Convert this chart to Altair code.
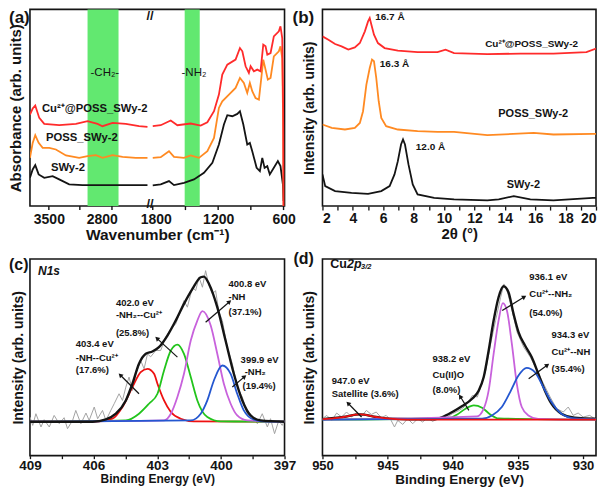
import math
import altair as alt
import pandas as pd

SANS = "Liberation Sans, Arial, Helvetica, sans-serif"
NARROW = "Liberation Sans Narrow, Arial Narrow, Liberation Sans, sans-serif"
INK = "#141414"
RED = "#ff2b2b"
ORANGE = "#ff8a22"
BAND = "#62e870"
GRAY = "#a3a3a3"
C_RED = "#ee1111"
C_GREEN = "#22c41c"
C_MAG = "#c862dc"
C_BLUE = "#2457d0"

# ---------------- (a) FTIR (wavenumber, absorbance arb.) ----------------
a_cu_wn = [3750, 3714, 3680, 3627, 3561, 3363, 3142, 2988, 2856, 2790, 2657, 2482, 2306, 2195,
           1800, 1727, 1635, 1574, 1452, 1360, 1299, 1238, 1193, 1162, 1116, 1040, 1000, 978, 948,
           918, 902, 872, 841, 811, 786, 765, 749, 719, 689, 643, 628, 612, 603, 600]
a_cu_val = [91.7, 97.7, 100.7, 88.3, 82.3, 81, 82.3, 85, 82.3, 80, 83.3, 82.3, 80, 79.3,
            80, 81, 85.7, 81, 82.7, 80.7, 84, 95, 111.7, 131.7, 141.7, 146.7, 158.3, 155, 140,
            133.3, 140, 135, 136.7, 135, 161.7, 160, 151.7, 153.3, 170, 175, 180, 168.3, 95, 0]
a_poss_wn = [3750, 3714, 3680, 3635, 3582, 3495, 3407, 3274, 3099, 2988, 2878, 2790, 2657, 2525, 2350, 2195,
             1800, 1727, 1651, 1605, 1513, 1452, 1376, 1299, 1238, 1193, 1162, 1101, 1040, 1000, 964,
             933, 909, 887, 857, 826, 804, 786, 765, 744, 719, 689, 643, 628, 612, 603, 600]
a_poss_val = [48.3, 63.3, 71, 63.3, 58.3, 58.3, 56.7, 50.7, 48.3, 50, 51, 48.3, 51, 49.3, 48.3, 48.3,
              48.3, 49, 55, 49.3, 48.3, 50.7, 48.3, 55, 68.3, 98.3, 105, 111.7, 118.3, 128.3, 123.3,
              113.3, 123.3, 115, 108.3, 106.7, 128.3, 146.7, 136.7, 126.7, 128.3, 150, 155, 160, 148.3, 80, 0]
a_swy_wn = [3750, 3714, 3680, 3635, 3561, 3450, 3363, 3231, 3054, 2702, 2195,
            1800, 1727, 1651, 1605, 1513, 1422, 1330, 1253, 1193, 1147, 1116, 1070, 1024, 1000, 969,
            933, 909, 887, 847, 817, 795, 774, 749, 726, 689, 652, 628, 606, 600]
a_swy_val = [28.3, 36.7, 41, 31.7, 28.3, 30, 26.7, 21.7, 21, 21, 21,
             20.7, 21.7, 25, 21, 23.3, 26.7, 33.3, 43.3, 61.7, 81.7, 91, 90, 92.3, 95, 81.7,
             61.7, 63.3, 55, 38.3, 35, 48.3, 38.3, 40, 31.7, 38.3, 45, 40, 21.7, 5]
a_band_start = [2988, 1507]
a_band_end = [2578, 1369]
a_band_text = ["-CH₂-", "-NH₂"]
a_band_text_wn = [2759, 1422]
a_band_text_val = [133, 133]
a_label_text = ["Cu²⁺@POSS_SWy-2", "POSS_SWy-2", "SWy-2"]
a_label_wn = [3591, 3539, 3473]
a_label_val = [97.7, 68.3, 38.3]
a_ticklabel_wn = [3500, 2800, 1800, 1200, 600]
a_tick_wn = [3500, 3090, 2665, 1800, 1500, 1200, 900, 600]
a_gap_wn = [2195, 1800]

# ---------------- (b) XRD (2theta, intensity arb.) ----------------
b_cu_tt = [2.0, 2.39, 2.83, 3.26, 3.70, 4.13, 4.46, 4.79, 5.0, 5.11, 5.22, 5.39, 5.65, 6.09, 6.96,
           8.26, 9.57, 10.1, 10.66, 12.85, 15.03, 17.2, 19.37, 20.0]
b_cu_val = [170, 166.7, 162.3, 160, 156.7, 159, 163.3, 175, 185, 188.3, 181.7, 171.7, 163.3, 158.3, 155.7,
            154.3, 154.3, 156.7, 153.3, 152.3, 152.7, 152.7, 154.3, 157.7]
b_poss_tt = [2.0, 2.61, 3.48, 4.13, 4.46, 4.67, 4.89, 5.11, 5.26, 5.39, 5.54, 5.70, 5.87, 6.19, 6.96,
             8.26, 9.57, 10.66, 12.85, 15.9, 17.2, 19.8, 20.0]
b_poss_val = [81.7, 78.3, 76.7, 78.3, 83.3, 95, 121.7, 138.3, 146.7, 145, 128.3, 105, 88.3, 80, 76.7,
              75, 74.3, 74.3, 71, 73.3, 71.7, 72.3, 72.3]
b_swy_tt = [2.0, 2.18, 2.83, 3.91, 5.0, 5.87, 6.42, 6.74, 6.96, 7.17, 7.30, 7.43, 7.66, 7.94, 8.26,
            9.35, 10.66, 12.85, 13.6, 14.59, 15.68, 17.2, 19.8, 20.0]
b_swy_val = [31.7, 20, 15, 13.3, 12.3, 15, 20, 31.7, 45, 61.7, 66.7, 61.7, 41.7, 21.7, 11.7,
             8.3, 6.7, 5.7, 6.7, 10, 6.7, 5.7, 8.3, 8.3]
b_peak_text = ["16.7 Å", "16.3 Å", "12.0 Å"]
b_peak_tt = [6.44, 6.74, 9.11]
b_peak_val = [189, 142, 59]
b_label_text = ["Cu²⁺@POSS_SWy-2", "POSS_SWy-2", "SWy-2"]
b_label_tt = [15.76, 15.87, 15.22]
b_label_val = [162.3, 92, 20.7]
b_ticks = list(range(2, 21))

# ---------------- (c) N1s XPS ----------------
c_raw_be = [409.0, 408.87, 408.72, 408.48, 408.33, 408.09, 407.86, 407.62, 407.39, 407.23, 406.99, 406.84,
            406.6, 406.36, 406.21, 405.97, 405.81, 405.58, 405.42, 405.19, 405.03, 404.8, 404.64, 404.48,
            404.33, 404.17, 404.01, 403.78, 403.62, 403.46, 403.31, 403.07, 402.84, 402.6, 402.36, 402.13,
            401.89, 401.74, 401.58, 401.34, 401.19, 401.03, 400.87, 400.72, 400.56, 400.4, 400.25, 400.09,
            399.93, 399.7, 399.46, 399.23, 398.99, 398.76, 398.52, 398.28, 398.05, 397.81, 397.66, 397.47,
            397.27, 397.11, 397.0]
c_raw_val = [4.7, -3.7, 8, -5.3, 2, -5.3, 6.3, -2, 4, -7, 1.3, 11.3, -2, 8.7, 1.3, 14.7, 3, 11.3, 1.3, 11.3,
             18, 28, 21.3, 34.7, 44.7, 31.3, 48, 61.3, 53, 68, 65, 71.3, 71.3, 84.7, 93, 98, 111.3, 121.3,
             114.7, 134.7, 131.3, 144.7, 134.7, 151.3, 136.3, 128, 131.3, 109.7, 101.3, 74.7, 58, 34.7, 24.7,
             8, 4.7, -2, 8, -5.3, 3, -12, 1.3, -3.7, 1.3]
c_env_be = [409, 406.05, 405.42, 404.95, 404.48, 404.17, 403.86, 403.54, 403.23, 402.92, 402.52, 402.13,
            401.74, 401.34, 400.95, 400.80, 400.56, 400.17, 399.78, 399.39, 398.99, 398.60, 398.13, 397]
c_env_val = [0, 0, 2.3, 8, 21.3, 38, 58, 68, 70.3, 74.7, 86.3, 101.3, 118, 133, 144.7, 145.3, 138, 114.7,
             81.3, 48, 21.3, 6.3, 1.3, 0]
c_red_be = [409, 406, 405.11, 404.64, 404.17, 403.78, 403.46, 403.15, 402.99, 402.68, 402.36, 401.89, 401.27, 397]
c_red_val = [0, 0, 3, 14.7, 34.7, 49.7, 53, 48, 38, 21.3, 9.7, 3, 0.3, 0]
c_grn_be = [409, 404.48, 403.86, 403.39, 402.99, 402.68, 402.36, 402.05, 401.74, 401.42, 401.11, 400.64, 400.01, 397]
c_grn_val = [0, 1.3, 8, 18, 28, 51.3, 71.3, 77.3, 68, 44.7, 21.3, 4.7, 0.3, 0]
c_mag_be = [409, 402.68, 402.36, 402.05, 401.74, 401.42, 401.11, 400.87, 400.48, 400.17, 399.86, 399.54,
            399.23, 398.76, 397]
c_mag_val = [0, 1.3, 8, 24.7, 48, 81.3, 101.3, 110.7, 96.3, 68, 38, 18, 6.3, 1.3, 0]
c_blu_be = [409, 401.42, 400.95, 400.64, 400.33, 399.93, 399.54, 399.23, 398.92, 398.44, 397.81, 397]
c_blu_val = [0, 1.3, 8, 21.3, 41.3, 56.3, 48, 28, 11.3, 2, 0, 0]
c_text = ["402.0 eV", "-NH₂--Cu²⁺", "(25.8%)", "403.4 eV", "-NH--Cu²⁺", "(17.6%)",
          "400.8 eV", "-NH", "(37.1%)", "399.9 eV", "-NH₂", "(19.4%)"]
c_text_be = [404.95, 404.95, 404.95, 406.84, 406.84, 406.84, 399.64, 399.64, 399.64, 399.07, 398.88, 398.98]
c_text_val = [118.7, 107, 89, 78, 63.7, 51.3, 138, 124.7, 109.7, 62.3, 49.7, 35.3]
c_arrow_from_be = [403.86, 402.05, 400.72, 399.46]
c_arrow_from_val = [28, 64.7, 99.7, 34.7]
c_arrow_to_be = [404.72, 402.99, 399.62, 398.91]
c_arrow_to_val = [46.3, 83, 119.7, 44.7]
c_ticks = [409, 407.5, 406, 404.5, 403, 401.5, 400, 398.5, 397]

# ---------------- (d) Cu2p3/2 XPS ----------------
d_raw_be = [950.0, 949.67, 949.29, 948.91, 948.53, 948.15, 947.77, 947.39, 947.01, 946.63, 946.25, 945.87,
            945.49, 945.11, 944.73, 944.47, 944.22, 943.84, 943.46, 943.07, 942.69, 942.31, 941.93, 941.55,
            941.17, 940.79, 940.41, 940.03, 939.5, 939.12, 938.74, 938.49, 938.11, 937.85, 937.47, 937.09,
            936.71, 936.32, 936.07, 935.82, 935.44, 935.06, 934.55, 934.04, 933.54, 933.03, 932.52, 932.02,
            931.51, 931.13, 930.75, 930.37, 929.99, 929.48, 929.1]
d_raw_val = [1, 4.3, -0.7, 6.7, 2.7, 7.7, 2.7, 6.7, 3.3, 9.3, 5.3, 7.7, 2, 4.3, -0.7, -7.3, -0.7, -4.7, 1, -4,
             1, -2.3, 2, -1.7, 1, 0.3, 2.7, 6, 9.3, 12.7, 19.3, 24.3, 22.7, 32.7, 49.3, 76, 99.3, 122.7, 136,
             129.3, 109.3, 87.7, 72.7, 62.7, 49.3, 36, 22.7, 11, 7.7, 12.7, 4.3, 6.7, 2.7, 4.3, 1]
d_env_be = [950, 948.4, 947.13, 945.87, 944.85, 941.5, 940.79, 940.03, 939.27, 938.51, 938.0, 937.62,
            937.24, 936.86, 936.48, 936.1, 935.72, 935.33, 934.95, 934.45, 933.94, 933.43, 932.93, 932.42,
            931.66, 930.65, 929.13, 929]
d_env_val = [0.5, 2.7, 5.3, 2.7, 1, 0.5, 2.7, 7.7, 13.7, 21, 29.3, 42.7, 69.3, 99.3, 122.7, 133.7, 127.7,
             106, 87.7, 74.3, 62.7, 46, 29.3, 16, 6, 2, 1, 1]
d_mag_be = [950, 938.13, 937.62, 937.24, 936.86, 936.48, 936.15, 935.84, 935.46, 935.08, 934.7, 934.19, 933.43, 929]
d_mag_val = [0, 3.3, 11, 29.3, 66, 99.3, 116.7, 109.3, 76, 36, 12.7, 4.3, 0.7, 0]
d_blu_be = [950, 937.75, 936.99, 936.23, 935.59, 934.95, 934.32, 933.69, 933.05, 932.42, 931.66, 930.65, 929]
d_blu_val = [0, 1, 4.3, 12.7, 27.7, 44.3, 52, 47.7, 32.7, 17.7, 6, 1.3, 0.3]
d_grn_be = [950, 940.28, 939.65, 939.02, 938.38, 937.75, 937.12, 936.48, 929]
d_grn_val = [0, 1.7, 5.3, 11, 14.3, 12, 5.3, 1.3, 0]
d_red_be = [950, 949.41, 948.4, 947.13, 945.87, 944.85, 943.5, 929]
d_red_val = [0.5, 1, 2.7, 5.3, 2.7, 1, 0, 0]
d_text = ["947.0 eV", "Satellite (3.6%)", "938.2 eV", "Cu(II)O", "(8.0%)",
          "936.1 eV", "Cu²⁺--NH₂", "(54.0%)", "934.3 eV", "Cu²⁺--NH", "(35.4%)"]
d_text_be = [949.29, 949.29, 941.55, 941.55, 941.55, 934.12, 934.12, 934.12, 932.42, 932.42, 932.42]
d_text_val = [38.7, 25.3, 61, 44.3, 29.3, 143.3, 126, 107, 85.3, 67.7, 51]
d_arrow_from_be = [947.0, 938.76, 936.2, 934.17]
d_arrow_from_val = [2.7, 9.3, 109.3, 41]
d_arrow_to_be = [948.0, 939.4, 934.55, 932.78]
d_arrow_to_val = [16, 22.7, 122.7, 54.3]
d_ticks = [950, 947.5, 945, 942.5, 940, 937.5, 935, 932.5, 930]

# ---------------- sizes ----------------
W_A, H_A = 255, 197
W_B, H_B = 274, 197
W_C, H_C = 255, 197
W_D, H_D = 274, 197


def wn_to_pos(w):
    if w > 2000:
        return (3750 - w) * 0.0757
    return 123 + (1800 - w) * 0.10917


# ================= panel (a) =================
a_ticklabel_pos = [wn_to_pos(w) + (3 if w == 1800 else 0) for w in a_ticklabel_wn]
a_expr = "''"
for p, lab in reversed(list(zip(a_ticklabel_pos, a_ticklabel_wn))):
    a_expr = f"abs(datum.value - {p:.3f}) < 0.5 ? '{lab}' : " + a_expr


def XA(field):
    return alt.X(f"{field}:Q", scale=alt.Scale(domain=[0, W_A], nice=False, zero=False),
                 axis=alt.Axis(values=a_ticklabel_pos, labelExpr=a_expr, ticks=False, tickSize=0,
                               labelFontSize=14, labelPadding=6, labelFlush=False, labelOverlap=False,
                               title="Wavenumber (cm⁻¹)", titleFontSize=15.5, titlePadding=1))


def YA(field):
    return alt.Y(f"{field}:Q", scale=alt.Scale(domain=[0, H_A], nice=False, zero=False),
                 axis=alt.Axis(labels=False, ticks=False, tickSize=0, title="Absorbance (arb. units)",
                               titleFontSize=15, titlePadding=6))


def a_frame(wn, val):
    return pd.DataFrame({"pos": [wn_to_pos(w) for w in wn], "val": val,
                         "seg": ["L" if w > 2000 else "R" for w in wn]})


band_df = pd.DataFrame({"p0": [wn_to_pos(w) for w in a_band_start], "p1": [wn_to_pos(w) for w in a_band_end]})
bands = alt.Chart(band_df).mark_rect(color=BAND).encode(x=XA("p0"), x2="p1:Q", y=alt.value(0), y2=alt.value(H_A))


def a_line(wn, val, color):
    return alt.Chart(a_frame(wn, val)).mark_line(color=color, strokeWidth=1.8, clip=True).encode(
        x=XA("pos"), y=YA("val"), detail="seg:N")


def text_layer(xs, ys, texts, X, Y, size, align="left", font=SANS, style="normal", weight="bold", color=INK):
    df = pd.DataFrame({"x": xs, "y": ys, "t": texts})
    return alt.Chart(df).mark_text(align=align, baseline="middle", fontSize=size, font=font,
                                   fontWeight=weight, fontStyle=style, color=color).encode(
        x=X("x"), y=Y("y"), text="t:N")


a_tick_df = pd.DataFrame({"p": [wn_to_pos(w) for w in a_tick_wn]})
a_ticks = alt.Chart(a_tick_df).mark_rule(color=INK, strokeWidth=1.4).encode(
    x=XA("p"), y=alt.value(H_A), y2=alt.value(H_A + 4))
brk = (wn_to_pos(a_gap_wn[0]) + wn_to_pos(a_gap_wn[1])) / 2
brk_df = pd.DataFrame({"p": [brk, brk], "t": ["//", "//"], "v": [H_A - 7, 2]})
a_break = alt.Chart(brk_df).mark_text(fontSize=13, fontWeight="bold", font=SANS, color=INK,
                                      baseline="middle").encode(x=XA("p"), y=YA("v"), text="t:N")


def panel_label(t, dx, dy, size):
    return alt.Chart(pd.DataFrame({"t": [t]})).mark_text(
        align="left", baseline="middle", fontSize=size, fontWeight="bold", font=SANS, color=INK).encode(
        x=alt.value(dx), y=alt.value(dy), text="t:N")


panel_a = alt.layer(
    bands,
    a_line(a_swy_wn, a_swy_val, INK),
    a_line(a_poss_wn, a_poss_val, ORANGE),
    a_line(a_cu_wn, a_cu_val, RED),
    text_layer([wn_to_pos(w) for w in a_label_wn], a_label_val, a_label_text, XA, YA, 11.3),
    text_layer([wn_to_pos(w) for w in a_band_text_wn], a_band_text_val, a_band_text, XA, YA, 11.5,
               align="center", weight="normal"),
    a_ticks, a_break,
    panel_label("(a)", -21, 9, 17),
).properties(width=W_A, height=H_A)

# ================= panel (b) =================


def XB(field):
    return alt.X(f"{field}:Q", scale=alt.Scale(domain=[2, 20], nice=False, zero=False),
                 axis=alt.Axis(values=b_ticks, labelExpr="datum.value % 2 == 0 ? datum.label : ''",
                               tickSize=4, labelFontSize=14, labelPadding=1, labelFlush=0,
                               labelOverlap=False, title="2θ (°)", titleFontSize=15, titlePadding=1))


def YB(field):
    return alt.Y(f"{field}:Q", scale=alt.Scale(domain=[0, H_B], nice=False, zero=False),
                 axis=alt.Axis(labels=False, ticks=False, tickSize=0, title="Intensity (arb. units)",
                               titleFontSize=14, titlePadding=6))


def b_line(tt, val, color):
    return alt.Chart(pd.DataFrame({"tt": tt, "val": val})).mark_line(
        color=color, strokeWidth=1.8, clip=True).encode(x=XB("tt"), y=YB("val"))


panel_b = alt.layer(
    b_line(b_swy_tt, b_swy_val, INK),
    b_line(b_poss_tt, b_poss_val, ORANGE),
    b_line(b_cu_tt, b_cu_val, RED),
    text_layer(b_peak_tt, b_peak_val, b_peak_text, XB, YB, 10, align="center"),
    text_layer(b_label_tt[:1], b_label_val[:1], b_label_text[:1], XB, YB, 10, align="center"),
    text_layer(b_label_tt[1:], b_label_val[1:], b_label_text[1:], XB, YB, 11, align="center"),
    panel_label("(b)", -30, 9, 17),
).properties(width=W_B, height=H_B)

# ================= panel (c) =================


def XC(field):
    return alt.X(f"{field}:Q", scale=alt.Scale(domain=[397, 409], reverse=True, nice=False, zero=False),
                 axis=alt.Axis(values=c_ticks, labelExpr="(409 - datum.value) % 3 == 0 ? datum.label : ''",
                               tickSize=3, labelFontSize=13.5, labelPadding=0,
                               labelFlush=False, labelOverlap=False, title="Binding Energy (eV)",
                               titleFontSize=12, titlePadding=1))


def YC(field):
    return alt.Y(f"{field}:Q", scale=alt.Scale(domain=[-34, 163], nice=False, zero=False),
                 axis=alt.Axis(labels=False, ticks=False, tickSize=0, title="Intensity (arb. units)",
                               titleFontSize=14, titlePadding=4))


def xps_line(be, val, color, X, Y, width, interp="monotone"):
    return alt.Chart(pd.DataFrame({"be": be, "val": val})).mark_line(
        color=color, strokeWidth=width, interpolate=interp, clip=True).encode(x=X("be"), y=Y("val"))


def arrows(fb, fv, tb, tv, X, Y, kx, ky):
    df = pd.DataFrame({"x1": fb, "y1": fv, "x2": tb, "y2": tv})
    df["ang"] = [math.degrees(math.atan2(kx * (b2 - b1), ky * (v2 - v1))) % 360
                 for b1, v1, b2, v2 in zip(fb, fv, tb, tv)]
    rule = alt.Chart(df).mark_rule(color=INK, strokeWidth=1.2).encode(
        x=X("x1"), y=Y("y1"), x2="x2:Q", y2="y2:Q")
    head = alt.Chart(df).mark_point(shape="triangle", filled=True, size=26, color=INK, opacity=1).encode(
        x=X("x2"), y=Y("y2"), angle=alt.Angle("ang:Q", scale=None))
    return [rule, head]


panel_c = alt.layer(
    xps_line(c_raw_be, c_raw_val, GRAY, XC, YC, 1.0, "linear"),
    xps_line(c_red_be, c_red_val, C_RED, XC, YC, 1.8),
    xps_line(c_grn_be, c_grn_val, C_GREEN, XC, YC, 1.8),
    xps_line(c_mag_be, c_mag_val, C_MAG, XC, YC, 1.8),
    xps_line(c_blu_be, c_blu_val, C_BLUE, XC, YC, 1.8),
    xps_line(c_env_be, c_env_val, INK, XC, YC, 2.4),
    *arrows(c_arrow_from_be, c_arrow_from_val, c_arrow_to_be, c_arrow_to_val, XC, YC,
            -W_C / 12.0, H_C / 197.0),
    text_layer(c_text_be, c_text_val, c_text, XC, YC, 9.5),
    text_layer([408.62], [151], ["N1s"], XC, YC, 12, style="italic"),
    panel_label("(c)", -21, 6, 16),
).properties(width=W_C, height=H_C)

# ================= panel (d) =================


def XD(field):
    return alt.X(f"{field}:Q", scale=alt.Scale(domain=[929, 950], reverse=True, nice=False, zero=False),
                 axis=alt.Axis(values=d_ticks, labelExpr="datum.value % 5 == 0 ? datum.label : ''",
                               tickSize=3, labelFontSize=13, labelPadding=1, labelFlush=False,
                               labelOverlap=False, title="Binding Energy (eV)", titleFontSize=13.5,
                               titlePadding=0))


def YD(field):
    return alt.Y(f"{field}:Q", scale=alt.Scale(domain=[-36, 161], nice=False, zero=False),
                 axis=alt.Axis(labels=False, ticks=False, tickSize=0, title="Intensity (arb. units)",
                               titleFontSize=14, titlePadding=6))


cu_title = [
    alt.Chart(pd.DataFrame({"x": [949.41], "y": [155.7], "t": ["Cu"]})).mark_text(
        align="left", baseline="middle", fontSize=12.5, fontWeight="bold", font=SANS, color=INK).encode(
        x=XD("x"), y=YD("y"), text="t:N"),
    alt.Chart(pd.DataFrame({"x": [949.41], "y": [155.7], "t": ["2p"]})).mark_text(
        align="left", baseline="middle", fontSize=12.5, fontWeight="bold", fontStyle="italic", font=SANS,
        color=INK, dx=17).encode(x=XD("x"), y=YD("y"), text="t:N"),
    alt.Chart(pd.DataFrame({"x": [949.41], "y": [155.7], "t": ["3/2"]})).mark_text(
        align="left", baseline="middle", fontSize=7.5, fontWeight="bold", fontStyle="italic", font=SANS,
        color=INK, dx=31, dy=3).encode(x=XD("x"), y=YD("y"), text="t:N"),
]

panel_d = alt.layer(
    xps_line(d_raw_be, d_raw_val, GRAY, XD, YD, 1.0, "linear"),
    xps_line(d_env_be, d_env_val, INK, XD, YD, 2.4),
    xps_line(d_grn_be, d_grn_val, C_GREEN, XD, YD, 1.8),
    xps_line(d_mag_be, d_mag_val, C_MAG, XD, YD, 1.8),
    xps_line(d_blu_be, d_blu_val, C_BLUE, XD, YD, 1.8),
    xps_line(d_red_be, d_red_val, C_RED, XD, YD, 1.8),
    *arrows(d_arrow_from_be, d_arrow_from_val, d_arrow_to_be, d_arrow_to_val, XD, YD,
            -W_D / 21.0, H_D / 197.0),
    text_layer(d_text_be, d_text_val, d_text, XD, YD, 9.5),
    *cu_title,
    panel_label("(d)", -29, 0, 16),
).properties(width=W_D, height=H_D)

chart = alt.concat(panel_a, panel_b, panel_c, panel_d, columns=2,
                   spacing={"row": 53, "column": 38}, bounds="flush").properties(
    padding={"left": 0, "top": 0, "right": 0, "bottom": 0}
).configure_view(stroke=INK, strokeWidth=1.6).configure_axis(
    grid=False, domain=False, labelFont=SANS, titleFont=SANS, labelFontWeight="bold",
    titleFontWeight="bold", labelColor=INK, titleColor=INK, tickColor=INK, tickWidth=1.3)

chart.save("out.html", embed_options={"renderer": "svg", "actions": False})
